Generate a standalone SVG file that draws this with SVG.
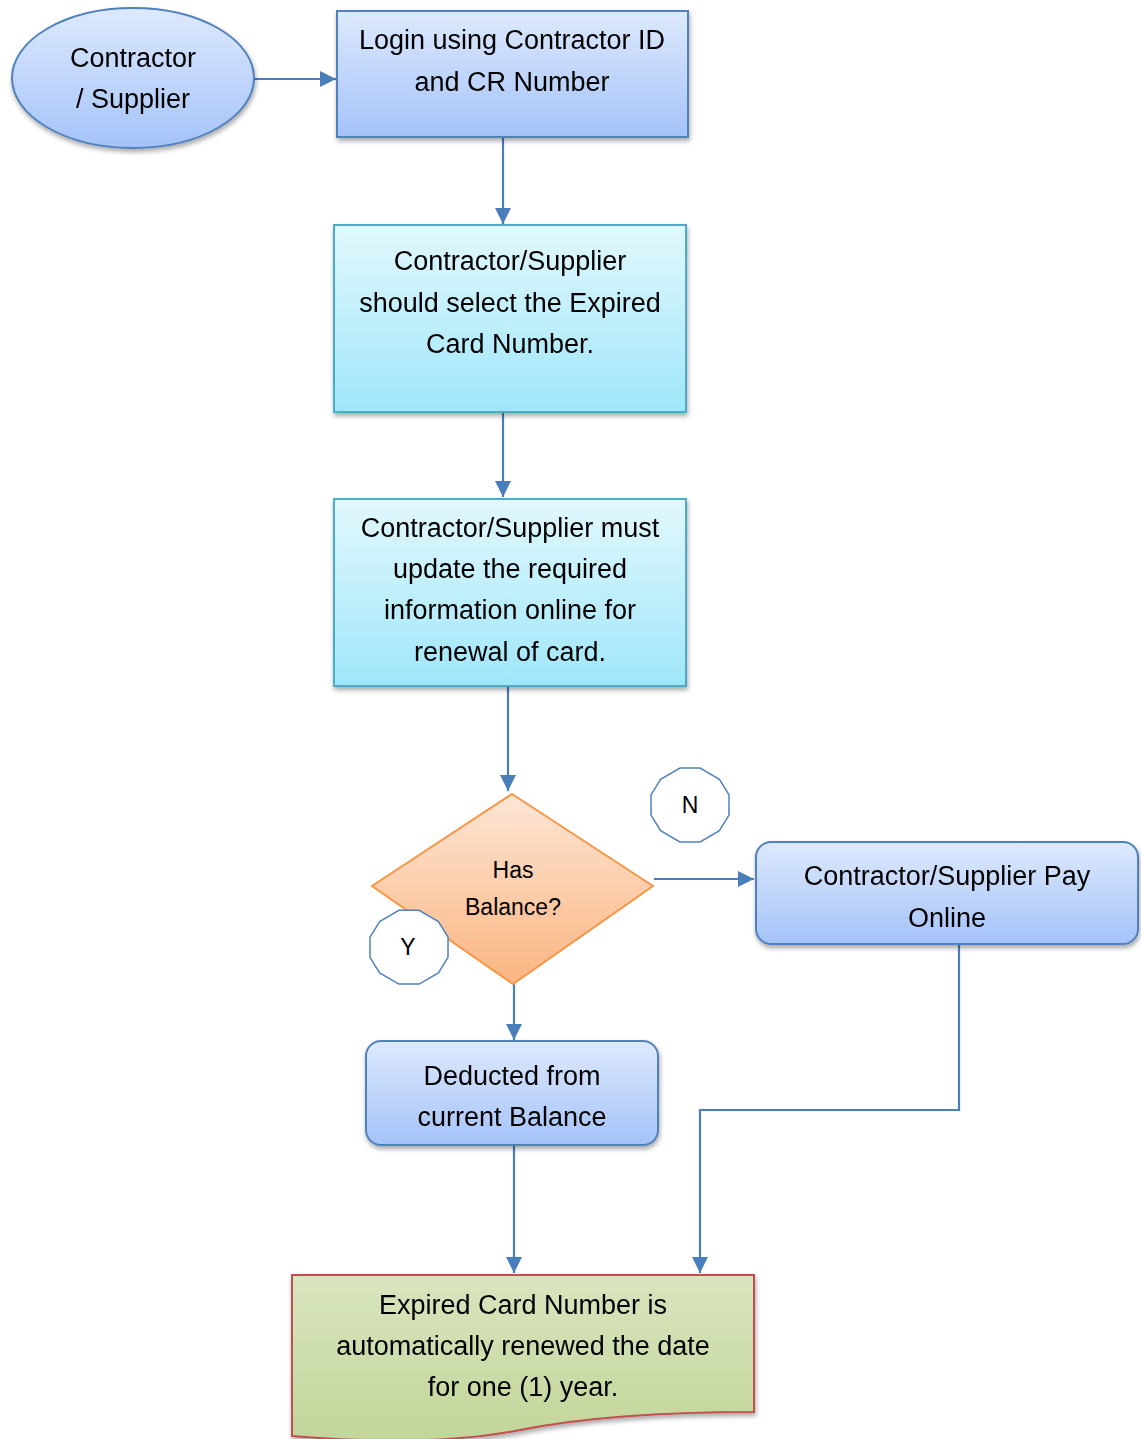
<svg xmlns="http://www.w3.org/2000/svg" width="1141" height="1439" viewBox="0 0 1141 1439">
<defs>
<linearGradient id="gBlue" x1="0" y1="0" x2="0" y2="1"><stop offset="0" stop-color="#dde9fd"/><stop offset="1" stop-color="#a5c3f9"/></linearGradient>
<linearGradient id="gCyan" x1="0" y1="0" x2="0" y2="1"><stop offset="0" stop-color="#e2f8fd"/><stop offset="1" stop-color="#9fe6fa"/></linearGradient>
<linearGradient id="gOrange" x1="0" y1="0" x2="0" y2="1"><stop offset="0" stop-color="#fde6d6"/><stop offset="1" stop-color="#fbb581"/></linearGradient>
<linearGradient id="gGreen" x1="0" y1="0" x2="0" y2="1"><stop offset="0" stop-color="#d9e5bf"/><stop offset="1" stop-color="#c2d599"/></linearGradient>
<filter id="sh" x="-10%" y="-10%" width="125%" height="130%"><feGaussianBlur in="SourceAlpha" stdDeviation="2.5"/><feOffset dx="1" dy="3"/><feComponentTransfer><feFuncA type="linear" slope="0.35"/></feComponentTransfer><feMerge><feMergeNode/><feMergeNode in="SourceGraphic"/></feMerge></filter>
<marker id="arrD" markerWidth="17" markerHeight="16" refX="16" refY="8" orient="auto" markerUnits="userSpaceOnUse"><path d="M0,0 L16,8 L0,16 Z" fill="#4a7ebb"/></marker>
</defs>
<style>
text{font-family:"Liberation Sans",Arial,sans-serif;font-size:27px;fill:#000;text-anchor:middle}
.sm{font-size:23px}
.blue{fill:url(#gBlue);stroke:#4f81bd;stroke-width:2}
.cyan{fill:url(#gCyan);stroke:#4bacc6;stroke-width:2}
.orange{fill:url(#gOrange);stroke:#f79646;stroke-width:2}
.green{fill:url(#gGreen);stroke:#c0504d;stroke-width:2}
.oct{fill:#fff;stroke:#4f81bd;stroke-width:1.5}
.conn{fill:none;stroke:#4a7ebb;stroke-width:2.2;marker-end:url(#arrD)}
</style>
<g id="connectors">
<path class="conn" d="M254,79 L336,79"/>
<path class="conn" d="M503,137 L503,224"/>
<path class="conn" d="M503,412 L503,497"/>
<path class="conn" d="M508,686 L508,791"/>
<path class="conn" d="M654,879 L754,879"/>
<path class="conn" d="M514,984 L514,1040"/>
<path class="conn" d="M514,1145 L514,1273"/>
<path class="conn" d="M959,944 L959,1110 L700,1110 L700,1273"/>
</g>
<g id="contractor" filter="url(#sh)">
<ellipse class="blue" cx="133" cy="78" rx="121" ry="70"/>
<text x="133" y="67">Contractor</text>
<text x="133" y="108">/ Supplier</text>
</g>
<g id="login" filter="url(#sh)">
<rect class="blue" x="337" y="11" width="351" height="126"/>
<text x="512" y="49">Login using Contractor ID</text>
<text x="512" y="91">and CR Number</text>
</g>
<g id="select" filter="url(#sh)">
<rect class="cyan" x="334" y="225" width="352" height="187"/>
<text x="510" y="270">Contractor/Supplier</text>
<text x="510" y="312">should select the Expired</text>
<text x="510" y="353">Card Number.</text>
</g>
<g id="update" filter="url(#sh)">
<rect class="cyan" x="334" y="499" width="352" height="187"/>
<text x="510" y="537">Contractor/Supplier must</text>
<text x="510" y="578">update the required</text>
<text x="510" y="619">information online for</text>
<text x="510" y="661">renewal of card.</text>
</g>
<g id="decision">
<path class="orange" d="M512,794 L653,886 L513,984 L372,886 Z"/>
<text class="sm" x="513" y="878">Has</text>
<text class="sm" x="513" y="915">Balance?</text>
</g>
<g id="labelN">
<polygon class="oct" points="729,794.9 719.4,779.3 700.1,768.1 679.9,768.1 660.6,779.3 651,794.9 651,815.1 660.6,830.7 679.9,841.9 700.1,841.9 719.4,830.7 729,815.1"/>
<text class="sm" x="690" y="813">N</text>
</g>
<g id="labelY">
<polygon class="oct" points="448,937.1 438.4,921.5 419.1,910.3 398.9,910.3 379.6,921.5 370,937.1 370,957.3 379.6,972.9 398.9,984.1 419.1,984.1 438.4,972.9 448,957.3"/>
<text class="sm" x="408" y="955">Y</text>
</g>
<g id="pay" filter="url(#sh)">
<rect class="blue" x="756" y="842" width="382" height="102" rx="15"/>
<text x="947" y="885">Contractor/Supplier Pay</text>
<text x="947" y="927">Online</text>
</g>
<g id="deducted" filter="url(#sh)">
<rect class="blue" x="366" y="1041" width="292" height="104" rx="15"/>
<text x="512" y="1085">Deducted from</text>
<text x="512" y="1126">current Balance</text>
</g>
<g id="renewed" filter="url(#sh)">
<path class="green" d="M292,1275 L754,1275 L754,1412 C650,1412 580,1418 520,1430 C470,1440 400,1445 292,1436 Z"/>
<text x="523" y="1314">Expired Card Number is</text>
<text x="523" y="1355">automatically renewed the date</text>
<text x="523" y="1396">for one (1) year.</text>
</g>
</svg>
